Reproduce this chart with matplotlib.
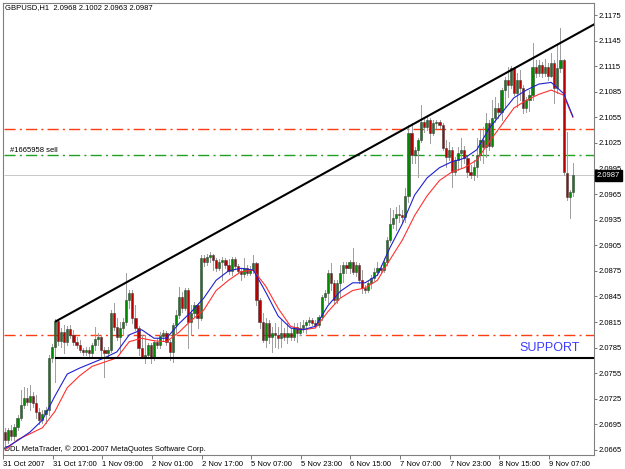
import numpy as np
import matplotlib
matplotlib.use("Agg")
import matplotlib.pyplot as plt
from matplotlib.transforms import blended_transform_factory

plt.rcParams["font.family"] = ["Liberation Sans", "DejaVu Sans"]

# ---- data (GBPUSD H1, one entry per bar) ----
opens = [
    2.0686, 2.0677, 2.0688, 2.0681, 2.0692, 2.0702, 2.0718, 2.0726, 2.0721, 2.0728,
    2.0720, 2.0710, 2.0700, 2.0707, 2.0712, 2.0773, 2.0786, 2.0816, 2.0793, 2.0803,
    2.0792, 2.0807, 2.0800, 2.0792, 2.0788, 2.0782, 2.0780, 2.0782, 2.0779, 2.0788,
    2.0795, 2.0797, 2.0782, 2.0779, 2.0782, 2.0826, 2.0809, 2.0797, 2.0808, 2.0815,
    2.0841, 2.0849, 2.0820, 2.0808, 2.0784, 2.0774, 2.0776, 2.0788, 2.0774, 2.0792,
    2.0788, 2.0799, 2.0802, 2.0792, 2.0780, 2.0812, 2.0823, 2.0844, 2.0831, 2.0852,
    2.0815, 2.0826, 2.0835, 2.0820, 2.0890, 2.0885, 2.0891, 2.0894, 2.0888, 2.0878,
    2.0885, 2.0888, 2.0882, 2.0875, 2.0889, 2.0881, 2.0875, 2.0871, 2.0878, 2.0872,
    2.0876, 2.0884, 2.0841, 2.0815, 2.0794, 2.0814, 2.0797, 2.0802, 2.0800, 2.0796,
    2.0802, 2.0797, 2.0802, 2.0797, 2.0809, 2.0802, 2.0808, 2.0812, 2.0815, 2.0817,
    2.0814, 2.0812, 2.0821, 2.0844, 2.0849, 2.0872, 2.0861, 2.0841, 2.0861, 2.0872,
    2.0882, 2.0878, 2.0885, 2.0874, 2.0882, 2.0864, 2.0855, 2.0852, 2.0861, 2.0867,
    2.0874, 2.0878, 2.0876, 2.0885, 2.0911, 2.0930, 2.0937, 2.0942, 2.0940, 2.0938,
    2.0963, 2.1037, 2.1011, 2.1017, 2.1028, 2.1049, 2.1044, 2.1052, 2.1037, 2.1048,
    2.1049, 2.1046, 2.1019, 2.1008, 2.1017, 2.0991, 2.1005, 2.1013, 2.1017, 2.1007,
    2.0991, 2.0987, 2.0997, 2.1011, 2.1028, 2.1020, 2.1048, 2.1022, 2.1054, 2.1066,
    2.1061, 2.1087, 2.1099, 2.1093, 2.1113, 2.1083, 2.1099, 2.1089, 2.1066, 2.1075,
    2.1081, 2.1114, 2.1107, 2.1116, 2.1107, 2.1114, 2.1104, 2.1119, 2.1090, 2.1113,
    2.1122, 2.0990, 2.0962, 2.0968,
]
highs = [
    2.0691, 2.0691, 2.0694, 2.0695, 2.0706, 2.0735, 2.0739, 2.0738, 2.0741, 2.0733,
    2.0730, 2.0714, 2.0712, 2.0715, 2.0776, 2.0789, 2.0819, 2.0819, 2.0808, 2.0812,
    2.0810, 2.0812, 2.0806, 2.0797, 2.0794, 2.0784, 2.0786, 2.0786, 2.0790, 2.0809,
    2.0802, 2.0800, 2.0786, 2.0786, 2.0829, 2.0837, 2.0820, 2.0815, 2.0820, 2.0872,
    2.0852, 2.0852, 2.0835, 2.0810, 2.0800, 2.0800, 2.0790, 2.0790, 2.0794, 2.0796,
    2.0803, 2.0806, 2.0805, 2.0794, 2.0814, 2.0829, 2.0856, 2.0850, 2.0855, 2.0855,
    2.0835, 2.0838, 2.0837, 2.0894, 2.0894, 2.0895, 2.0897, 2.0895, 2.0890, 2.0889,
    2.0891, 2.0890, 2.0889, 2.0891, 2.0891, 2.0883, 2.0878, 2.0890, 2.0882, 2.0881,
    2.0894, 2.0885, 2.0843, 2.0826, 2.0820, 2.0817, 2.0809, 2.0814, 2.0809, 2.0817,
    2.0808, 2.0814, 2.0808, 2.0814, 2.0814, 2.0815, 2.0817, 2.0817, 2.0821, 2.0820,
    2.0817, 2.0823, 2.0847, 2.0852, 2.0876, 2.0884, 2.0864, 2.0864, 2.0882, 2.0885,
    2.0885, 2.0888, 2.0902, 2.0885, 2.0884, 2.0876, 2.0858, 2.0864, 2.0870, 2.0878,
    2.0885, 2.0882, 2.0890, 2.0915, 2.0949, 2.0946, 2.0950, 2.0952, 2.0946, 2.0972,
    2.1046, 2.1048, 2.1020, 2.1031, 2.1069, 2.1055, 2.1055, 2.1054, 2.1052, 2.1052,
    2.1052, 2.1048, 2.1028, 2.1026, 2.1020, 2.1008, 2.1020, 2.1031, 2.1022, 2.1011,
    2.0999, 2.1005, 2.1031, 2.1040, 2.1044, 2.1060, 2.1052, 2.1075, 2.1079, 2.1072,
    2.1089, 2.1102, 2.1114, 2.1115, 2.1114, 2.1107, 2.1110, 2.1093, 2.1079, 2.1087,
    2.1142, 2.1122, 2.1122, 2.1120, 2.1124, 2.1119, 2.1130, 2.1122, 2.1140, 2.1160,
    2.1124, 2.1038, 2.0970, 2.1002,
]
lows = [
    2.0671, 2.0673, 2.0677, 2.0677, 2.0688, 2.0700, 2.0714, 2.0718, 2.0712, 2.0715,
    2.0702, 2.0695, 2.0697, 2.0697, 2.0706, 2.0768, 2.0745, 2.0788, 2.0786, 2.0779,
    2.0788, 2.0796, 2.0788, 2.0784, 2.0780, 2.0776, 2.0776, 2.0775, 2.0774, 2.0782,
    2.0788, 2.0774, 2.0751, 2.0773, 2.0780, 2.0806, 2.0794, 2.0779, 2.0800, 2.0812,
    2.0831, 2.0814, 2.0806, 2.0776, 2.0773, 2.0767, 2.0773, 2.0767, 2.0770, 2.0784,
    2.0784, 2.0794, 2.0788, 2.0770, 2.0768, 2.0803, 2.0820, 2.0827, 2.0829, 2.0784,
    2.0800, 2.0822, 2.0808, 2.0817, 2.0881, 2.0882, 2.0885, 2.0876, 2.0875, 2.0876,
    2.0864, 2.0878, 2.0871, 2.0870, 2.0878, 2.0872, 2.0864, 2.0868, 2.0870, 2.0870,
    2.0872, 2.0835, 2.0808, 2.0792, 2.0786, 2.0790, 2.0780, 2.0786, 2.0784, 2.0786,
    2.0794, 2.0790, 2.0794, 2.0794, 2.0792, 2.0800, 2.0803, 2.0802, 2.0812, 2.0812,
    2.0809, 2.0809, 2.0817, 2.0841, 2.0837, 2.0852, 2.0837, 2.0837, 2.0844, 2.0862,
    2.0872, 2.0872, 2.0871, 2.0869, 2.0861, 2.0849, 2.0849, 2.0850, 2.0855, 2.0864,
    2.0870, 2.0872, 2.0874, 2.0882, 2.0909, 2.0925, 2.0923, 2.0932, 2.0932, 2.0932,
    2.0956, 2.1002, 2.1002, 2.0985, 2.1026, 2.1038, 2.1040, 2.1025, 2.1034, 2.1042,
    2.1042, 2.1017, 2.0997, 2.1005, 2.0973, 2.0987, 2.0993, 2.0997, 2.1002, 2.0985,
    2.0984, 2.0981, 2.0985, 2.1005, 2.1001, 2.1008, 2.1017, 2.1020, 2.1049, 2.1054,
    2.1052, 2.1067, 2.1079, 2.1089, 2.1081, 2.1067, 2.1075, 2.1060, 2.1061, 2.1063,
    2.1075, 2.1102, 2.1104, 2.1102, 2.1104, 2.1099, 2.1102, 2.1072, 2.1083, 2.1108,
    2.0988, 2.0958, 2.0937, 2.0963,
]
closes = [
    2.0677, 2.0688, 2.0681, 2.0692, 2.0702, 2.0718, 2.0726, 2.0721, 2.0728, 2.0720,
    2.0710, 2.0700, 2.0707, 2.0712, 2.0773, 2.0786, 2.0816, 2.0793, 2.0803, 2.0792,
    2.0807, 2.0800, 2.0792, 2.0788, 2.0782, 2.0780, 2.0782, 2.0779, 2.0788, 2.0795,
    2.0797, 2.0782, 2.0779, 2.0782, 2.0826, 2.0809, 2.0797, 2.0808, 2.0815, 2.0841,
    2.0849, 2.0820, 2.0808, 2.0784, 2.0774, 2.0776, 2.0788, 2.0774, 2.0792, 2.0788,
    2.0799, 2.0802, 2.0792, 2.0780, 2.0812, 2.0823, 2.0844, 2.0831, 2.0852, 2.0815,
    2.0826, 2.0835, 2.0820, 2.0890, 2.0885, 2.0891, 2.0894, 2.0888, 2.0878, 2.0885,
    2.0888, 2.0882, 2.0875, 2.0889, 2.0881, 2.0875, 2.0871, 2.0878, 2.0872, 2.0876,
    2.0884, 2.0841, 2.0815, 2.0794, 2.0814, 2.0797, 2.0802, 2.0800, 2.0796, 2.0802,
    2.0797, 2.0802, 2.0797, 2.0809, 2.0802, 2.0808, 2.0812, 2.0815, 2.0817, 2.0814,
    2.0812, 2.0821, 2.0844, 2.0849, 2.0872, 2.0861, 2.0841, 2.0861, 2.0872, 2.0882,
    2.0878, 2.0885, 2.0874, 2.0882, 2.0864, 2.0855, 2.0852, 2.0861, 2.0867, 2.0874,
    2.0878, 2.0876, 2.0885, 2.0911, 2.0930, 2.0937, 2.0942, 2.0940, 2.0938, 2.0963,
    2.1037, 2.1011, 2.1017, 2.1028, 2.1049, 2.1044, 2.1052, 2.1037, 2.1048, 2.1049,
    2.1046, 2.1019, 2.1008, 2.1017, 2.0991, 2.1005, 2.1013, 2.1017, 2.1007, 2.0991,
    2.0987, 2.0997, 2.1011, 2.1028, 2.1020, 2.1048, 2.1022, 2.1054, 2.1066, 2.1061,
    2.1087, 2.1099, 2.1093, 2.1113, 2.1083, 2.1099, 2.1089, 2.1066, 2.1075, 2.1081,
    2.1114, 2.1107, 2.1116, 2.1107, 2.1114, 2.1104, 2.1119, 2.1090, 2.1113, 2.1122,
    2.0991, 2.0962, 2.0968, 2.0987,
]

# moving averages, read every 4th bar
ma_bars = [0, 4, 8, 12, 16, 20, 24, 28, 32, 36, 40, 44, 48, 52, 56, 60, 64, 68, 72, 76,
           80, 84, 88, 92, 96, 100, 104, 108, 112, 116, 120, 124, 128, 132, 136, 140,
           144, 148, 152, 156, 160, 164, 168, 172, 176, 180, 183]
ma_blue = [2.0667, 2.0676, 2.0686, 2.0700, 2.0728, 2.0754, 2.0761, 2.0767, 2.0773, 2.0780,
           2.0800, 2.0806, 2.0796, 2.0796, 2.0813, 2.0827, 2.0843, 2.0864, 2.0875, 2.0878,
           2.0876, 2.0850, 2.0822, 2.0808, 2.0806, 2.0810, 2.0834, 2.0851, 2.0861, 2.0861,
           2.0870, 2.0902, 2.0930, 2.0964, 2.0984, 2.0996, 2.1003, 2.1007, 2.1017, 2.1042,
           2.1060, 2.1078, 2.1087, 2.1094, 2.1096, 2.1083, 2.1056]
ma_red = [2.0665, 2.0677, 2.0684, 2.0691, 2.0710, 2.0738, 2.0752, 2.0763, 2.0768, 2.0773,
          2.0792, 2.0796, 2.0793, 2.0792, 2.0803, 2.0817, 2.0829, 2.0852, 2.0864, 2.0874,
          2.0876, 2.0857, 2.0831, 2.0810, 2.0806, 2.0808, 2.0827, 2.0843, 2.0852, 2.0855,
          2.0864, 2.0888, 2.0911, 2.0940, 2.0963, 2.0981, 2.0991, 2.0996, 2.1005, 2.1026,
          2.1046, 2.1066, 2.1075, 2.1082, 2.1087, 2.1081, 2.1055]

# objects drawn on the chart
trend_bars = [16.4, 189.8]
trend_prices = [2.0816, 2.1164]
support_start = 16.4
support_price = 2.0773
level_orange = [2.1041, 2.0800]
level_sell = 2.1011
bid_price = 2.0987

time_bars = [0, 16, 32, 48, 64, 80, 96, 112, 128, 144, 160, 176]
time_labels = ["31 Oct 2007", "31 Oct 17:00", "1 Nov 09:00", "2 Nov 01:00", "2 Nov 17:00",
               "5 Nov 07:00", "5 Nov 23:00", "6 Nov 15:00", "7 Nov 07:00", "7 Nov 23:00",
               "8 Nov 15:00", "9 Nov 07:00"]
price_ticks = [2.0665, 2.0695, 2.0725, 2.0755, 2.0785, 2.0815, 2.0845, 2.0875, 2.0905,
               2.0935, 2.0965, 2.0995, 2.1025, 2.1055, 2.1085, 2.1115, 2.1145, 2.1175]

# ---- plot ----
o = np.array(opens)
h = np.array(highs)
l = np.array(lows)
c = np.array(closes)
x = np.arange(len(c))

fig = plt.figure(figsize=(6.25, 4.69), dpi=100)
ax = fig.add_axes([3 / 625, 14 / 469, 591 / 625, 452 / 469])
x_left, x_right = -0.32, 189.8
ax.set_xlim(x_left, x_right)
ax.set_ylim(2.06591, 2.11891)

fs = 5.5
px = 0.72  # one pixel in points

# horizontal levels
ax.hlines(level_orange, x_left, x_right, colors="#ff3c14", linewidth=1.0,
          linestyles=(0, (8, 3, 1.5, 3)), zorder=1)
ax.hlines([level_sell], x_left, x_right, colors="#22a022", linewidth=1.0,
          linestyles=(0, (8, 3, 1.5, 3)), zorder=1)
ax.hlines([bid_price], x_left, x_right, colors="#c8c8c8", linewidth=px, zorder=1)
ax.text(1.5, level_sell + 0.00005, "#1665958 sell", fontsize=fs, color="black",
        ha="left", va="bottom")

# candles
ax.vlines(x, l, h, color="#a0a0a0", lw=px, antialiased=False, zorder=2)
up = c >= o
body = np.maximum(np.abs(c - o), 0.00004)
ax.bar(x[up], body[up], bottom=o[up], width=0.7, color="#008a00",
       edgecolor="#404040", lw=0.4, zorder=3)
ax.bar(x[~up], body[~up], bottom=c[~up], width=0.7, color="#b80000",
       edgecolor="#404040", lw=0.4, zorder=3)

# moving averages
ax.plot(ma_bars, ma_red, color="#ff3030", lw=0.8, zorder=4)
ax.plot(ma_bars, ma_blue, color="#2020d0", lw=0.8, zorder=4)

# trend line and support
ax.plot(trend_bars, trend_prices, color="black", lw=1.5, zorder=5)
ax.plot([support_start, x_right], [support_price, support_price], color="black", lw=1.5, zorder=5)
ax.text(165.7, 2.0784, "SUPPORT", color="#3c3cff", fontsize=9, ha="left", va="center")

# axes styling
for s in ax.spines.values():
    s.set_color("#808080")
    s.set_linewidth(0.8)
ax.yaxis.tick_right()
ax.set_yticks(price_ticks)
ax.set_yticklabels([f"{p:.4f}" for p in price_ticks], fontsize=fs)
ax.tick_params(axis="y", length=2, width=0.6, pad=1.5, color="#606060")
ax.set_xticks([b - 0.7 for b in time_bars])
ax.set_xticklabels(time_labels, fontsize=fs, ha="left")
ax.tick_params(axis="x", length=3, width=0.6, pad=1.5, color="#606060")

# titles and current price tag
ax.text(0.004, 0.989, "GBPUSD,H1  2.0968 2.1002 2.0963 2.0987", transform=ax.transAxes,
        fontsize=fs, ha="left", va="center")
ax.text(0.002, 0.013, "ODL MetaTrader, \u00a9 2001-2007 MetaQuotes Software Corp.",
        transform=ax.transAxes, fontsize=fs, ha="left", va="center")
trans = blended_transform_factory(ax.transAxes, ax.transData)
ax.text(1.005, bid_price, f"{bid_price:.4f}", transform=trans, fontsize=fs, color="white",
        ha="left", va="center",
        bbox=dict(facecolor="black", edgecolor="black", pad=1.2))

fig.savefig("out.png", dpi=100)
